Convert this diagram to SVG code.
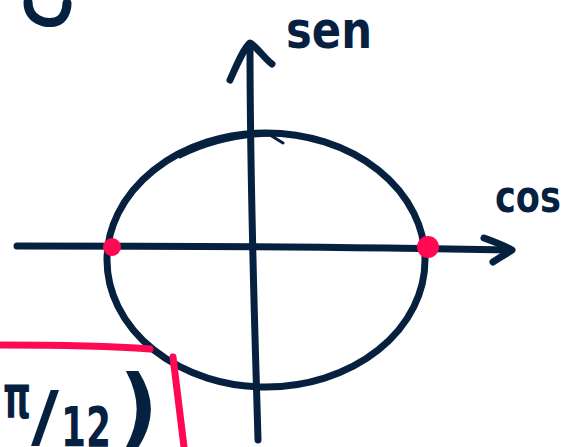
<svg xmlns="http://www.w3.org/2000/svg" width="576" height="447" viewBox="0 0 576 447">
<style>
.ink{fill:none;stroke:#06213f;stroke-linecap:round;stroke-linejoin:round}
.red{fill:none;stroke:#ff0a52;stroke-linecap:round}
.hand{fill:#06213f;font-family:"DejaVu Sans",sans-serif;font-weight:bold}
</style>
<rect width="576" height="447" fill="#ffffff"/>
<g id="fragment">
<path class="ink" stroke-width="9" d="M28,2 C28,20 45,24 55,22 C64,20 67,10 67,3"/>
</g>
<g id="circle">
<ellipse class="ink" stroke-width="7" cx="266" cy="260" rx="159" ry="127"/>
<path class="ink" stroke-width="3" d="M180,157 C210,142 240,136 270,135 L283,143"/>
</g>
<g id="axes">
<path class="ink" stroke-width="7" d="M258,440 C255,330 250,200 250,45"/>
<path class="ink" stroke-width="7" d="M230,80 C238,62 244,48 250,43 C258,48 264,58 272,64"/>
<path class="ink" stroke-width="7" d="M17,246 C150,246 350,247 510,250"/>
<path class="ink" stroke-width="7" d="M484,238 C495,242 505,246 512,250 C506,254 499,258 493,262"/>
</g>
<g id="points">
<circle cx="112" cy="247" r="9" fill="#ff0a52"/>
<circle cx="428" cy="247" r="11" fill="#ff0a52"/>
</g>
<g id="red-marks">
<path class="red" stroke-width="7" d="M0,345 C60,345 110,346 150,349"/>
<path class="red" stroke-width="7" d="M173,357 L184,447"/>
</g>
<g id="labels">
<text class="hand" x="286" y="48" font-size="52" textLength="86" lengthAdjust="spacingAndGlyphs">sen</text>
<text class="hand" x="495" y="212" font-size="44" textLength="66" lengthAdjust="spacingAndGlyphs">cos</text>
<text class="hand" x="3" y="418" font-size="60" textLength="28" lengthAdjust="spacingAndGlyphs">π</text>
<text class="hand" x="31" y="440" font-size="68" textLength="28" lengthAdjust="spacingAndGlyphs">/</text>
<text class="hand" x="61" y="446" font-size="56" textLength="50" lengthAdjust="spacingAndGlyphs">12</text>
<text class="hand" x="119" y="436" font-size="86">)</text>
</g>
</svg>
